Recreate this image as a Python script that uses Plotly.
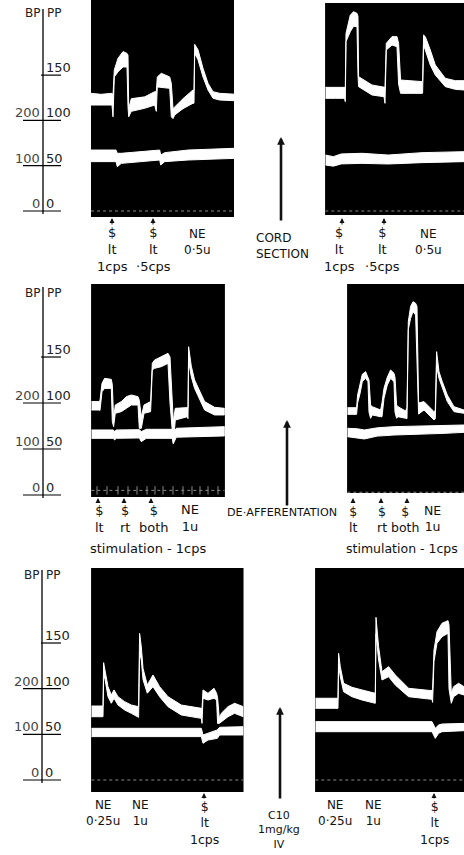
import plotly.graph_objects as go

W, H = 464, 855

# ---------------- DATA (time: arbitrary units, pressure: mm Hg on the PP scale) ----------------
# Row 1 left  (before cord section)
a_t  = [0, 10, 21, 22, 23.3, 27, 32, 36, 37, 37.7, 40.3, 53.7, 63.7, 65.3, 66.3, 70.3, 78.7, 80.3, 82, 83.7,
        92, 102, 103, 103.7, 107, 112, 117, 122, 128.7, 143]
a_hi = [129.9, 128.8, 129.9, 128, 155.7, 168.5, 176, 174, 172, 113, 124, 126, 131.7, 131.7, 148, 152, 148, 141, 113, 115,
        124, 133.6, 133.6, 184, 178, 157.5, 141, 131.7, 129.9, 129]
a_lo = [117, 117, 117, 104, 148, 153.8, 159, 159, 115, 104, 110, 113.4, 117, 110, 137, 137, 135.4, 104, 102, 106,
        113, 119, 119, 174, 167, 148, 133.6, 124.4, 122.5, 121.8]
a_bt  = [0, 25, 26.3, 30.3, 68.7, 69.7, 73.7, 97, 143]
a_bhi = [67.3, 67.3, 63.7, 63.7, 67.3, 61.8, 64.4, 67.3, 69.2]
a_blo = [54.5, 54.5, 48.9, 52.6, 56.3, 50.8, 54.5, 56.3, 58.1]

# Row 1 right (after cord section)
b_t  = [0, 10, 19.3, 20, 20.7, 25, 28.3, 31.7, 32.7, 33.3, 46.7, 58.7, 59.7, 61, 66.7, 71.7, 73.3, 75.3, 96.7, 97.3,
        98.3, 100, 105, 110, 120, 130, 138.7]
b_hi = [136.5, 136.5, 137.3, 136.5, 196, 216.4, 220, 218.2, 215, 148.3, 139.1, 136.5, 136.5, 185.1, 192.5, 192.5, 185, 144.6, 142.8, 142.8,
        194.3, 192.5, 177.7, 161.2, 146.5, 143.9, 143.9]
b_lo = [124.4, 124.4, 124.4, 120.7, 187, 198, 204, 203.5, 150, 137.3, 128.1, 126.2, 118.9, 177.7, 183.3, 181.4, 140, 129.9, 129.9, 130,
        183, 177.7, 161.2, 150.1, 137.3, 134.3, 133.6]
b_bt  = [0, 8, 16, 36.7, 63, 96.7, 138.7]
b_bhi = [61.8, 60, 63, 63.7, 61.8, 64.4, 65.5]
b_blo = [50.8, 49.5, 52, 52.6, 51.9, 53.4, 54.5]

# Row 2 left  (before de-afferentation)
c_t  = [0, 7.7, 8.7, 10.7, 13.3, 20, 21, 22.3, 24, 30, 35, 40, 46.7, 48, 50, 52.7, 59.3, 61, 63.3, 70,
        76.7, 78.7, 82, 84, 96, 96.7, 97.3, 100, 103.3, 108.3, 113.3, 123.3, 133.3]
c_hi = [101.5, 101.5, 103, 121.4, 126.8, 125.7, 120, 83.4, 97.8, 101.5, 106.9, 108.7, 106.9, 103, 85.1, 97.8, 101.5, 143.1, 146.7, 150.4,
        154, 150, 80, 94.2, 95.3, 95, 161.2, 140, 125, 112.3, 101.5, 95.3, 94.2]
c_lo = [92.4, 92.4, 92, 112.3, 115.9, 115.9, 80, 74.3, 88.8, 90.6, 94.2, 97.8, 97.8, 72.5, 72.5, 88.8, 90.6, 135.9, 137.7, 139.5,
        143.1, 100, 56.2, 81.5, 85.1, 83, 145, 128.6, 115.9, 103.3, 92.4, 87, 87]
c_bt  = [0, 22, 23.3, 25, 48, 50, 55, 81, 82, 85, 133.3]
c_bhi = [70.7, 70.7, 69, 70.7, 71, 68.9, 71.4, 71.4, 67.2, 72.5, 74.3]
c_blo = [61.6, 61.6, 59.8, 61.6, 62, 58, 61.6, 61.6, 55.8, 62.8, 64.2]
c_ticks = [5.7, 15.7, 26.7, 36.7, 45.7, 55.7, 63.7, 71.7, 81.7, 91.7, 100.7, 108.7, 116.7, 126.7]

# Row 2 right (after de-afferentation)
d_t  = [0, 9.3, 10.3, 12.7, 15, 18.3, 20.7, 21.7, 23.3, 25, 33.3, 34.7, 36.7, 40, 43.3, 46.7, 47.7, 49.3, 50.7, 58.3,
        59.7, 61, 63.3, 65.7, 68.3, 69.7, 71.3, 76.7, 86.7, 88, 89.3, 91.7, 95, 100, 106.7, 116.7]
d_hi = [94.9, 94.9, 108.7, 121.4, 131.2, 134.1, 128.6, 125, 97.8, 96, 92.4, 100, 116, 128, 135.9, 132.3, 128, 97.8, 96, 91.3,
        95, 188.4, 205, 210.1, 208.4, 205, 100, 101.5, 90.6, 92, 155.8, 134.1, 123.2, 108.7, 96, 92.4]
d_lo = [87.7, 87.7, 100, 110, 123.2, 126.8, 123.2, 90, 83.4, 87, 85.1, 85, 105, 119.6, 126.8, 123.2, 90, 83.4, 85.1, 83.4,
        83, 180, 192, 199.3, 195.7, 150, 88, 92.4, 81.5, 83, 140, 126.8, 116, 101.5, 90.6, 88.8]
d_bt  = [0, 10, 17, 30, 46.7, 96.7, 116.7]
d_bhi = [72.5, 72, 70.7, 73, 74.3, 76.1, 76.1]
d_blo = [63.4, 62, 60.9, 64, 65.2, 67, 68.1]

# Row 3 left  (before C10)
e_t  = [0, 11.7, 12.3, 13.3, 16.7, 20, 22.7, 26.7, 33.3, 40, 47.3, 48.3, 50, 51.7, 56, 61.7, 68.3, 76.7, 90, 110,
        110.7, 111.7, 116.7, 122.7, 125.3, 126.3, 128, 130, 136.7, 143.3, 152]
e_hi = [81, 81, 128.5, 122.3, 102.2, 93.1, 98.6, 91.2, 85.8, 82.1, 80.3, 160.6, 146, 122.3, 104, 115, 102.2, 91.2, 82.1, 78.5,
        78, 98.6, 94.9, 100.4, 94.9, 90, 67.5, 73, 80.3, 84, 80.3]
e_lo = [69.3, 69.3, 110, 113.1, 91.2, 84, 89.5, 82.1, 76.7, 73, 68.6, 140, 131.4, 110, 95, 102.2, 91.2, 80.3, 71.2, 67.5,
        62, 89.5, 87.6, 89.5, 87.6, 62, 62, 63.9, 69.3, 73, 69.3]
e_bt  = [0, 110, 111.7, 116.7, 126, 128.3, 152]
e_bhi = [56.6, 56.6, 49.3, 51.1, 54.8, 57.7, 58.4]
e_blo = [47.5, 47.5, 40.2, 43.8, 45.6, 49.3, 49.3]

# Row 3 right (after C10)
f_t  = [0, 22.7, 23.3, 25, 28.3, 36.7, 46.7, 60, 60.7, 63.3, 66.7, 73.3, 80, 93.3, 116.7, 117.3, 118.7, 121.7, 126.7, 132.7,
        133.7, 136, 138.3, 143.3, 148.7]
f_hi = [89.5, 89.5, 138.7, 124.1, 105.9, 101.5, 98.6, 94.9, 178.1, 146, 118.6, 124.1, 115, 100.4, 97.8, 100, 142.4, 162.4, 171.6, 174.5,
        170, 95, 102.2, 105.9, 102.2]
f_lo = [78.5, 78.5, 125, 113.1, 96.7, 91.2, 87.6, 84, 160, 131.4, 109.5, 113.1, 104, 91.2, 88.3, 85, 130, 149.7, 156.9, 160.6,
        100, 84, 91.2, 94.9, 93.1]
f_bt  = [0, 116.7, 120, 123.3, 126.7, 148.7]
f_bhi = [63.9, 63.9, 56.6, 60.2, 61.3, 62]
f_blo = [52.9, 52.9, 45.6, 51.1, 52.9, 54]

# time-marker trace level (mm Hg) per panel
marker_level = [0, 0, 5, 3, 0, 0]

# scale ticks: PP values and matching BP labels
pp_ticks = [0, 50, 100, 150]
bp_ticks = ["0", "100", "200", ""]
pp_labels = ["0", "50", "100", "150"]

# ---------------- LAYOUT GEOMETRY (pixels) ----------------
boxes = [(91, 234, 0, 217), (325.3, 464, 3, 215),
         (91.3, 224.7, 284, 497), (347.3, 464, 284, 493),
         (91.3, 243.3, 568, 792), (315.3, 464, 568, 792)]
row_zero = [211, 495, 780]
row_k = [1.104, 1.087, 1.095]

panels = [
    (a_t, a_hi, a_lo, a_bt, a_bhi, a_blo),
    (b_t, b_hi, b_lo, b_bt, b_bhi, b_blo),
    (c_t, c_hi, c_lo, c_bt, c_bhi, c_blo),
    (d_t, d_hi, d_lo, d_bt, d_bhi, d_blo),
    (e_t, e_hi, e_lo, e_bt, e_bhi, e_blo),
    (f_t, f_hi, f_lo, f_bt, f_bhi, f_blo),
]


def px(x):
    return x / W


def py(y):
    return 1 - y / H


fig = go.Figure()
layout = dict(width=W, height=H, margin=dict(l=0, r=0, t=0, b=0),
              paper_bgcolor="white", plot_bgcolor="black", showlegend=False)
shapes = []
annotations = []

for i, (box, pdata) in enumerate(zip(boxes, panels)):
    n = i + 1
    xa = "x" if n == 1 else f"x{n}"
    ya = "y" if n == 1 else f"y{n}"
    x0, x1, y0, y1 = box
    r = i // 2
    ylo = (row_zero[r] - y1) * row_k[r]
    yhi = (row_zero[r] - y0) * row_k[r]
    layout["xaxis" if n == 1 else f"xaxis{n}"] = dict(domain=[px(x0), px(x1)], range=[0, x1 - x0], visible=False,
                                                      anchor=ya, fixedrange=True)
    layout["yaxis" if n == 1 else f"yaxis{n}"] = dict(domain=[py(y1), py(y0)], range=[ylo, yhi], visible=False,
                                                      anchor=xa, fixedrange=True)
    shapes.append(dict(type="rect", xref=f"{xa} domain", yref=f"{ya} domain", x0=0, x1=1, y0=0, y1=1,
                       fillcolor="black", line=dict(width=0), layer="below"))
    t, hi, lo, bt, bhi, blo = pdata
    fig.add_trace(go.Scatter(x=[0, x1 - x0], y=[marker_level[i]] * 2, mode="lines",
                             line=dict(color="#8a8a8a", width=1, dash="dot"), xaxis=xa, yaxis=ya, hoverinfo="skip"))
    if i == 2:
        fig.add_trace(go.Scatter(x=c_ticks, y=[marker_level[i]] * len(c_ticks), mode="markers",
                                 marker=dict(symbol="line-ns", size=6, line=dict(color="#8a8a8a", width=1)),
                                 xaxis=xa, yaxis=ya, hoverinfo="skip"))
    fig.add_trace(go.Scatter(x=list(t) + list(t)[::-1], y=list(hi) + list(lo)[::-1], mode="lines",
                             fill="toself", fillcolor="white", line=dict(color="white", width=1),
                             xaxis=xa, yaxis=ya, hoverinfo="skip"))
    fig.add_trace(go.Scatter(x=list(bt) + list(bt)[::-1], y=list(bhi) + list(blo)[::-1], mode="lines",
                             fill="toself", fillcolor="white", line=dict(color="white", width=1),
                             xaxis=xa, yaxis=ya, hoverinfo="skip"))

# ---------------- left hand-drawn scales ----------------
FONT = "DejaVu Sans"
axis_x = [43, 43, 42]
axis_span = [(9, 214), (287, 498), (570, 783)]
bp_y = [13, 293, 575]
row_ref = ["y", "y3", "y5"]
for r in range(3):
    shapes.append(dict(type="line", xref="paper", yref="paper", x0=px(axis_x[r]), x1=px(axis_x[r]),
                       y0=py(axis_span[r][0]), y1=py(axis_span[r][1]), line=dict(color="black", width=1.3)))
    annotations.append(dict(text="BP", x=px(axis_x[r] - 1.5), y=py(bp_y[r]), xref="paper", yref="paper",
                            xanchor="right", yanchor="middle", showarrow=False,
                            font=dict(family=FONT, size=12, color="#222")))
    annotations.append(dict(text="PP", x=px(axis_x[r] + 1.5), y=py(bp_y[r]), xref="paper", yref="paper",
                            xanchor="left", yanchor="middle", showarrow=False,
                            font=dict(family=FONT, size=12, color="#222")))
    for pp, bpl, ppl in zip(pp_ticks, bp_ticks, pp_labels):
        xl = 41 if pp == 150 else 23
        shapes.append(dict(type="line", xref="paper", yref=row_ref[r], x0=px(xl), x1=px(61), y0=pp, y1=pp,
                           line=dict(color="black", width=1.2)))
        if bpl:
            annotations.append(dict(text=bpl, x=px(axis_x[r] - 1.5), y=pp, xref="paper", yref=row_ref[r],
                                    xanchor="right", yanchor="bottom", showarrow=False, yshift=-2,
                                    font=dict(family=FONT, size=13, color="#444")))
        annotations.append(dict(text=ppl, x=px(axis_x[r] + 1), y=pp, xref="paper", yref=row_ref[r],
                                xanchor="left", yanchor="bottom", showarrow=False, yshift=-2,
                                font=dict(family=FONT, size=13, color="#222")))


# ---------------- labels ----------------
def label(text, x, y, size=13, anchor="center", align="center"):
    annotations.append(dict(text=text, x=px(x), y=py(y), xref="paper", yref="paper", xanchor=anchor,
                            yanchor="middle", showarrow=False, align=align,
                            font=dict(family=FONT, size=size, color="#111")))


def stim(x, tip, tail):
    annotations.append(dict(text="", x=px(x), y=py(tip), xref="paper", yref="paper", showarrow=True,
                            ax=0, ay=tail - tip, arrowhead=2, arrowsize=1, arrowwidth=1, arrowcolor="#111"))


def big_arrow(x, top, bottom):
    annotations.append(dict(text="", x=px(x), y=py(top), xref="paper", yref="paper", showarrow=True,
                            ax=0, ay=bottom - top, arrowhead=2, arrowsize=0.6, arrowwidth=2.6, arrowcolor="#111"))


# Row 1
stim(112, 218, 226)
label("$<br>lt<br>1cps", 112, 249)
stim(153, 218, 226)
label("$<br>lt<br>·5cps", 153, 249)
label("NE<br>0·5u", 197, 242, size=12)
stim(342, 218, 226)
label("$<br>lt<br>1cps", 339, 249)
stim(384, 218, 226)
label("$<br>lt<br>·5cps", 382, 249)
label("NE<br>0·5u", 428, 242, size=12)
label("CORD<br>SECTION", 254, 246, size=12, anchor="left", align="left")
big_arrow(281, 137, 222)

# Row 2
for xs, side in [(98, "lt"), (124, "rt"), (151, "both")]:
    stim(xs, 498, 504)
    label("$<br>" + side, xs + (3 if side == "both" else 1), 519)
label("NE<br>1u", 190, 518)
label("stimulation - 1cps", 148, 548)
for xs, side, dx in [(353, "lt", 0), (381, "rt", 1), (407, "both", -2)]:
    stim(xs, 498, 504)
    label("$<br>" + side, xs + dx, 519, size=12.5)
label("NE<br>1u", 432, 518, size=12.5)
label("stimulation - 1cps", 344, 548, size=12.5, anchor="left")
label("DE·AFFERENTATION", 282, 512, size=11.2)
big_arrow(287, 420, 507)

# Row 3
label("NE<br>0·25u", 103, 813, size=12)
label("NE<br>1u", 140, 813, size=12)
stim(204, 793, 800)
label("$<br>lt<br>1cps", 204, 823, size=12.5)
label("NE<br>0·25u", 335, 813, size=12)
label("NE<br>1u", 373, 813, size=12)
stim(434, 793, 800)
label("$<br>lt<br>1cps", 434, 823, size=12.5)
label("C10<br>1mg/kg<br>IV", 279, 830, size=11)
big_arrow(280, 707, 800)

layout["shapes"] = shapes
layout["annotations"] = annotations
fig.update_layout(**layout)
fig.write_html("out.html", config={"displayModeBar": False, "staticPlot": True},
               post_script="document.body.style.margin='0px';document.body.style.padding='0px';")
